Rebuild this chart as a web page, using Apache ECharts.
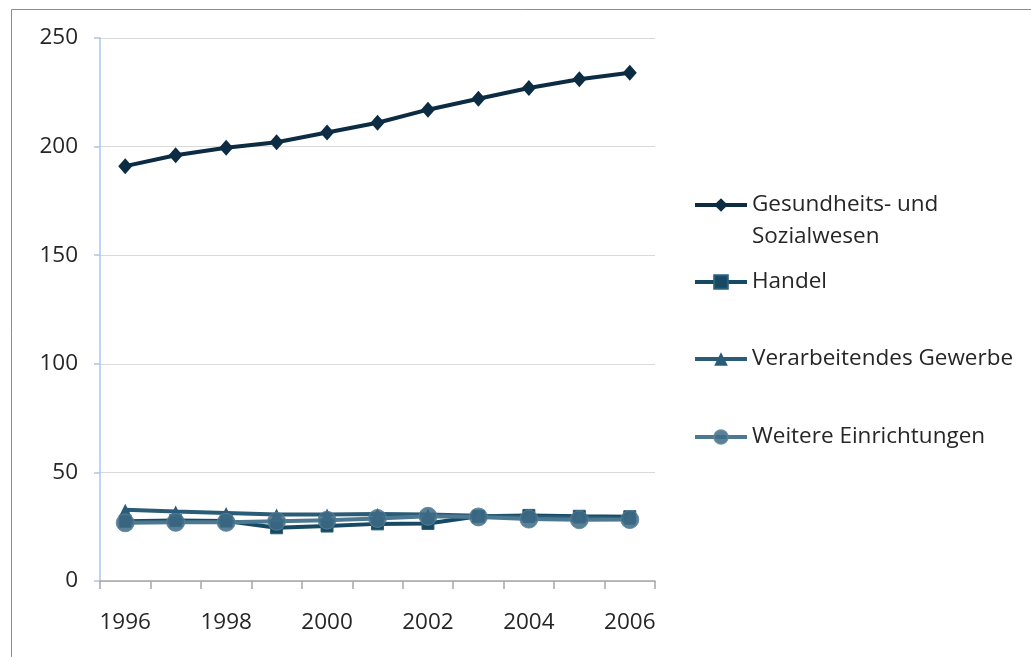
<!DOCTYPE html>
<html>
<head>
<meta charset="utf-8">
<script src="https://cdn.jsdelivr.net/npm/echarts@6/dist/echarts.min.js"></script>
<style>
  html, body { margin: 0; padding: 0; background: #fff; }
  #chart { width: 1031px; height: 657px; }
</style>
</head>
<body>
<div id="chart"></div>
<script>
// Beschäftigte nach Wirtschaftszweigen, 1996–2006
const years = ['1996', '1997', '1998', '1999', '2000', '2001', '2002', '2003', '2004', '2005', '2006'];
const gesundheit = [191, 196, 199.5, 202, 206.5, 211, 217, 222, 227, 231, 234];
const handel = [27.5, 27.8, 27.6, 24.5, 25.3, 26.3, 26.5, 29.8, 30.2, 29.8, 29.6];
const verarbeitend = [32.8, 32.0, 31.3, 30.6, 30.6, 30.8, 30.6, 30.0, 29.5, 29.2, 28.7];
const weitere = [26.8, 27.0, 27.0, 27.5, 28.0, 28.8, 29.8, 29.5, 28.5, 28.2, 28.3];
const yTicks = { min: 0, max: 250, interval: 50 };

const FONT = 'Open Sans';
const FONT_SIZE = 22.5;
const TEXT = '#262626';

const names = ['Gesundheits- und Sozialwesen', 'Handel', 'Verarbeitendes Gewerbe', 'Weitere Einrichtungen'];
// The long label wraps onto two lines; a leading empty line keeps the
// first text line level with the legend symbol.
const legendLabels = {
  'Gesundheits- und Sozialwesen': ' \nGesundheits- und\nSozialwesen'
};
const LINE_H = 31.5;

function legendFor(name, centerY, lines) {
  const boxH = LINE_H * lines;
  return {
    data: [name],
    left: 693,
    top: centerY - boxH / 2,
    padding: 0,
    itemWidth: 52,
    itemHeight: 17,
    itemGap: 0,
    selectedMode: false,
    formatter: n => legendLabels[n] || n,
    lineStyle: { width: 4 },
    textStyle: {
      fontFamily: FONT,
      fontSize: FONT_SIZE,
      color: TEXT,
      lineHeight: LINE_H
    }
  };
}

const chart = echarts.init(document.getElementById('chart'), null, { renderer: 'canvas' });

chart.setOption({
  backgroundColor: '#fff',
  animation: false,
  graphic: [{
    type: 'rect',
    shape: { x: 11.5, y: 9.5, width: 1040, height: 680 },
    style: { fill: 'none', stroke: '#8c8c8c', lineWidth: 1 },
    silent: true
  }],
  grid: { left: 100, right: 376, top: 38, bottom: 76 },
  legend: [
    legendFor(names[0], 205, 3),
    legendFor(names[1], 282, 1),
    legendFor(names[2], 359, 1),
    legendFor(names[3], 437, 1)
  ],
  xAxis: {
    type: 'category',
    data: years,
    boundaryGap: true,
    axisLine: { lineStyle: { color: '#a6a6a6', width: 1.5 } },
    axisTick: { show: true, interval: 0, length: 8, lineStyle: { color: '#a6a6a6', width: 1.5 } },
    axisLabel: { interval: 1, margin: 30, fontFamily: FONT, fontSize: FONT_SIZE, color: TEXT },
    splitLine: { show: false }
  },
  yAxis: {
    type: 'value',
    min: yTicks.min,
    max: yTicks.max,
    interval: yTicks.interval,
    axisLine: { show: true, lineStyle: { color: '#a9c6ea', width: 1.5 } },
    axisTick: { show: true, length: 6, lineStyle: { color: '#a9c6ea', width: 1.5 } },
    axisLabel: { margin: 22, fontFamily: FONT, fontSize: FONT_SIZE, color: TEXT },
    splitLine: { lineStyle: { color: '#d9d9d9', width: 1.2 } }
  },
  series: [
    {
      name: names[0], type: 'line', data: gesundheit,
      symbol: 'diamond', symbolSize: [14, 16],
      lineStyle: { color: '#0b2c42', width: 4 },
      itemStyle: { color: '#0b2c42' }
    },
    {
      name: names[1], type: 'line', data: handel,
      symbol: 'rect', symbolSize: 12,
      lineStyle: { color: '#164a64', width: 4 },
      itemStyle: { color: '#164a64', borderColor: '#2e5f78', borderWidth: 1 }
    },
    {
      name: names[2], type: 'line', data: verarbeitend,
      symbol: 'triangle', symbolSize: [12, 12],
      lineStyle: { color: '#2a5b77', width: 4 },
      itemStyle: { color: '#2a5b77' }
    },
    {
      name: names[3], type: 'line', data: weitere,
      symbol: 'circle', symbolSize: 18,
      lineStyle: { color: '#4d7892', width: 4 },
      itemStyle: { color: '#3e6b86', opacity: 0.85, borderColor: '#5b8299', borderWidth: 1 }
    }
  ]
});
</script>
</body>
</html>
